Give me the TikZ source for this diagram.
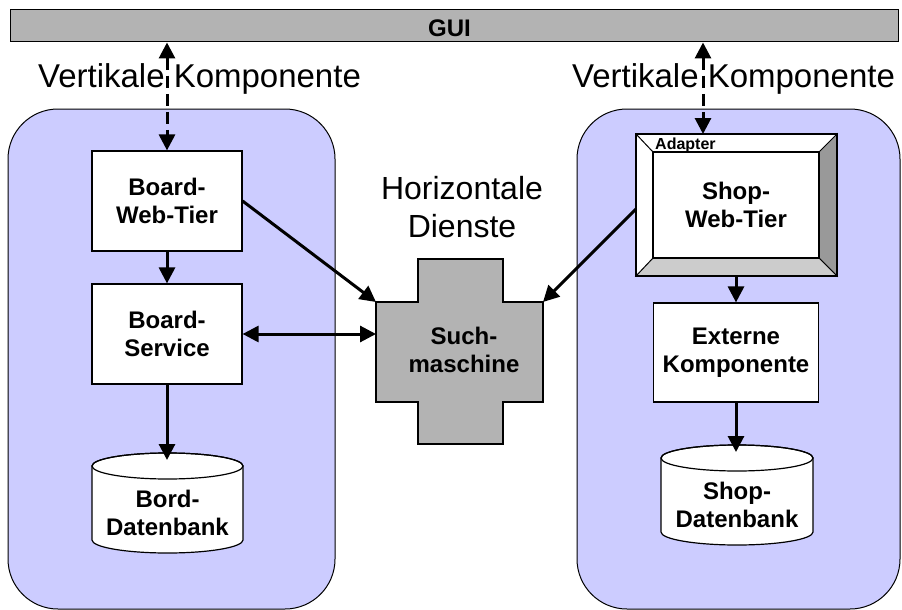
\documentclass[tikz,border=0pt]{standalone}
\usepackage{fontspec}
\setmainfont{Liberation Sans}
\usetikzlibrary{arrows.meta}
\definecolor{lav}{HTML}{CCCCFF}
\definecolor{gr}{HTML}{B3B3B3}
\definecolor{bevR}{HTML}{999999}
\definecolor{bevB}{HTML}{CCCCCC}
\begin{document}
\begin{tikzpicture}[x=1pt,y=-1pt,
 container/.style={draw=black, line width=1pt, fill=lav, rounded corners=50pt},
 boxnode/.style={draw=black, line width=1.2pt, fill=white, minimum width=150pt, minimum height=100pt, align=center, font=\bfseries\fontsize{24}{28}\selectfont, inner sep=0pt},
 lbl/.style={align=center, font=\fontsize{32}{38}\selectfont, inner sep=0pt},
 btxt/.style={align=center, font=\bfseries\fontsize{24}{28}\selectfont, inner sep=0pt},
 arr/.style={line width=3pt, -{Triangle[length=16pt,width=16pt]}},
 darr/.style={line width=3pt, {Triangle[length=16pt,width=16pt]}-{Triangle[length=16pt,width=16pt]}},
 dasharr/.style={darr, dash pattern=on 12pt off 6pt},
 cyl/.style={draw=black, line width=1.2pt, fill=white}
]
\useasboundingbox (0,0) rectangle (902,610);
% containers
\path[container] (8,109) rectangle (335,609);
\path[container] (577,109) rectangle (900,609);
% GUI bar
\node[draw, fill=gr, line width=1pt, minimum width=888pt, minimum height=32pt, inner sep=0pt] (gui) at (454,26) {};
\node[anchor=base, inner sep=0pt, font=\bfseries\fontsize{24}{28}\selectfont] (guil) at (449.5,37) {GUI};
% labels
\node[lbl, anchor=base, font=\fontsize{33}{38}\selectfont] (vk1) at (199.5,88) {Vertikale Komponente};
\node[lbl, anchor=base, font=\fontsize{33}{38}\selectfont] (vk2) at (733.5,88) {Vertikale Komponente};
\node[lbl] (hd) at (462,207) {Horizontale\\Dienste};
% left boxes
\node[boxnode] (bwt) at (167,201) {Board-\\Web-Tier};
\node[boxnode] (bs) at (167,334) {Board-\\Service};
% left cylinder
\path[cyl] (92,466) -- (92,540) arc[start angle=180,end angle=0,x radius=75.5,y radius=13] -- (243,466) arc[start angle=0,end angle=-180,x radius=75.5,y radius=13] -- cycle;
\draw[line width=1.2pt] (167.5,466) ellipse [x radius=75.5, y radius=13];
\node[btxt] (bdb) at (167.5,513) {Bord-\\Datenbank};
\coordinate (bdbtop) at (167,460);
% cross
\path[draw=black, line width=1.2pt, fill=gr] (418,259) -- (503,259) -- (503,302) -- (543,302) -- (543,402) -- (503,402) -- (503,444) -- (418,444) -- (418,402) -- (376,402) -- (376,302) -- (418,302) -- cycle;
\node[btxt] (sm) at (464,350) {Such-\\maschine};
\coordinate (smTL) at (376,302);
\coordinate (smTR) at (543,302);
\coordinate (smL) at (376,334);
% adapter
\path[fill=white] (636,134) rectangle (837,276);
\path[draw=black, line width=1pt, fill=bevR] (819,152) -- (837,134) -- (837,276) -- (819,258) -- cycle;
\path[draw=black, line width=1pt, fill=bevB] (653,258) -- (819,258) -- (837,276) -- (636,276) -- cycle;
\draw[line width=1pt] (636,134) -- (653,152);
\draw[line width=1.2pt] (653,152) rectangle (819,258);
\draw[line width=1.2pt] (636,134) rectangle (837,276);
\node[anchor=base west, inner sep=0pt, font=\bfseries\fontsize{16}{18}\selectfont] (adl) at (655,149) {Adapter};
\node[btxt] (swt) at (736,205) {Shop-\\Web-Tier};
\coordinate (adT) at (703,134);
\coordinate (adL) at (636,209);
\coordinate (adB) at (736,276);
% right boxes
\node[boxnode, minimum width=165pt, minimum height=99pt] (ek) at (736,352.5) {Externe\\Komponente};
% right cylinder
\path[cyl] (661,458) -- (661,532) arc[start angle=180,end angle=0,x radius=76,y radius=13] -- (813,458) arc[start angle=0,end angle=-180,x radius=76,y radius=13] -- cycle;
\draw[line width=1.2pt] (737,458) ellipse [x radius=76, y radius=13];
\node[btxt] (sdb) at (737,505) {Shop-\\Datenbank};
\coordinate (sdbtop) at (736,452);
% connectors
\draw[dasharr] (gui.south -| bwt.north) -- (bwt.north);
\draw[dasharr] (gui.south -| adT) -- (adT);
\draw[arr] (bwt.south) -- (bs.north);
\draw[arr] (bs.south) -- (bdbtop);
\draw[darr] (bs.east) -- (smL);
\draw[arr] (bwt.east) -- (smTL);
\draw[arr] (adL) -- (smTR);
\draw[arr] (adB) -- (ek.north);
\draw[arr] (ek.south) -- (sdbtop);
\end{tikzpicture}
\end{document}
